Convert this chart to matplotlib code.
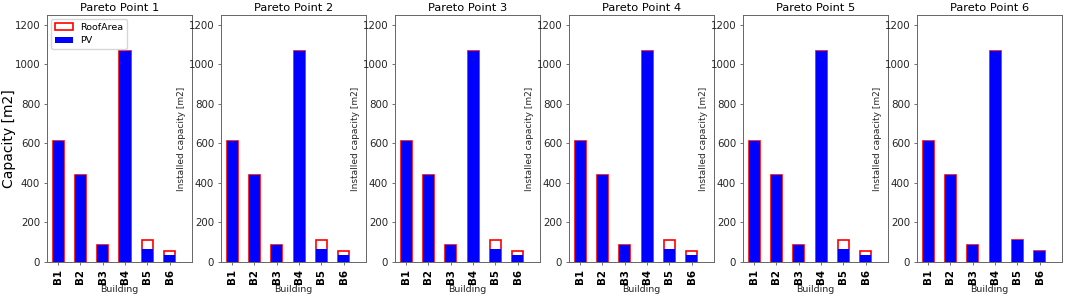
import matplotlib
matplotlib.use("Agg")
import matplotlib.pyplot as plt

# capacities per building
buildings = ["B1", "B2", "B3", "B4", "B5", "B6"]
roof_area = [610, 440, 87, 1070, 111, 57]
pv_points = [
    [610, 440, 87, 1070, 68, 35],
    [610, 440, 87, 1070, 68, 35],
    [610, 440, 87, 1070, 68, 35],
    [610, 440, 87, 1070, 68, 35],
    [610, 440, 87, 1070, 68, 35],
    [610, 440, 87, 1070, 111, 57],
]
titles = ["Pareto Point %d" % (i + 1) for i in range(6)]

W, H = 1065, 296
fig = plt.figure(figsize=(W / 100, H / 100), dpi=100)

lefts_px = [47, 221, 395, 569, 743, 917]
width_px = 145
bottom_px, top_px = 262, 15

x = list(range(len(buildings)))
for i, pv in enumerate(pv_points):
    ax = fig.add_axes([lefts_px[i] / W, (H - bottom_px) / H,
                       width_px / W, (bottom_px - top_px) / H])
    ax.bar(x, roof_area, width=0.5, color="white", edgecolor="red", lw=1.2,
           label="RoofArea", zorder=2)
    ax.bar(x, pv, width=0.5, color="blue", lw=0, label="PV", zorder=3)
    ax.set_xlim(-0.5, 6.0)
    ax.set_ylim(0, 1250)
    ax.set_xticks(x)
    ax.set_xticklabels(buildings, rotation=90, fontweight="bold", fontsize=7.4)
    ax.tick_params(axis="y", labelsize=7.4, labelcolor="0.15")
    ax.tick_params(axis="both", color="0.35", length=2.5, width=0.6, pad=2.5)
    for s in ax.spines.values():
        s.set_color("0.4")
        s.set_linewidth(0.7)
    ax.set_title(titles[i], fontsize=8.2, pad=3)
    ax.set_xlabel("Building", fontsize=6.8, labelpad=1, color="0.15")
    if i == 0:
        ax.set_ylabel("Capacity [m2]", fontsize=10, labelpad=-1)
        ax.legend(loc="upper left", fontsize=6.8, handlelength=1.9,
                  borderpad=0.4, borderaxespad=0.4, labelspacing=0.5,
                  handletextpad=0.8)
    else:
        ax.set_ylabel("Installed capacity [m2]", fontsize=6.5, color="0.15",
                      labelpad=2)

fig.savefig("out.png", dpi=100)
